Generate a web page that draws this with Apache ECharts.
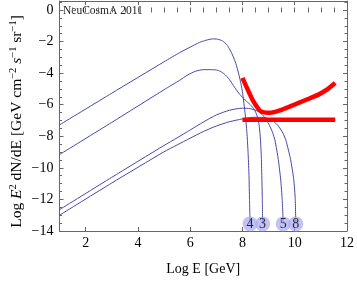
<!DOCTYPE html>
<html>
<head>
<meta charset="utf-8">
<script src="https://cdn.jsdelivr.net/npm/echarts@6/dist/echarts.min.js"></script>
<style>
html,body{margin:0;padding:0;background:#fff;}
#c{width:357px;height:281px;}
</style>
</head>
<body>
<div id="c"></div>
<script>
// ---- data ----
const xTicks = [2, 4, 6, 8, 10, 12];
const yTicks = [-14, -12, -10, -8, -6, -4, -2, 0];

const curve4 = [[1,-7.28],[3,-5.27],[5,-3.28],[5.6,-2.7],[6.0,-2.35],[6.35,-2.06],[6.6,-1.92],[6.85,-1.83],[7.05,-1.85],[7.24,-1.96],[7.4,-2.2],[7.5,-2.45],[7.62,-2.85],[7.75,-3.4],[7.85,-4.0],[7.94,-4.65],[8.01,-5.3],[8.07,-6.1],[8.13,-7.0],[8.18,-8.0],[8.22,-9.2],[8.25,-10.5],[8.27,-12],[8.29,-13.55]];
const curve3 = [[1,-9.16],[3,-7.12],[5,-5.05],[5.6,-4.45],[5.9,-4.12],[6.2,-3.88],[6.5,-3.78],[6.8,-3.78],[7.0,-3.8],[7.15,-3.88],[7.3,-4.05],[7.5,-4.4],[7.7,-4.9],[7.9,-5.35],[8.1,-5.7],[8.3,-6.0],[8.45,-6.3],[8.55,-6.65],[8.63,-7.2],[8.68,-8.0],[8.72,-9.2],[8.74,-10.5],[8.76,-12],[8.77,-13.55]];
const curve5 = [[1,-12.65],[3,-10.6],[5,-8.58],[5.5,-8.1],[6,-7.6],[6.5,-7.1],[7.0,-6.65],[7.5,-6.35],[8.0,-6.22],[8.3,-6.25],[8.6,-6.42],[8.8,-6.7],[9.0,-7.2],[9.15,-7.75],[9.25,-8.3],[9.37,-9.46],[9.46,-10.7],[9.52,-12],[9.56,-13.55]];
const curve8 = [[1,-13.0],[3,-10.96],[5,-8.98],[5.5,-8.55],[6,-8.12],[6.5,-7.7],[7.0,-7.35],[7.5,-7.08],[8.0,-6.9],[8.4,-6.8],[8.8,-6.8],[9.1,-6.95],[9.35,-7.3],[9.55,-7.8],[9.67,-8.3],[9.84,-9.46],[9.96,-10.7],[10.02,-12],[10.04,-13.55]];
const redCurve = [[8.0,-4.3],[8.38,-5.67],[8.63,-6.31],[8.75,-6.45],[9.01,-6.51],[9.25,-6.45],[9.52,-6.31],[9.8,-6.12],[10.15,-5.88],[10.5,-5.65],[10.91,-5.36],[11.2,-5.08],[11.55,-4.62]];
const redFlat = [[8.0,-6.95],[11.55,-6.95]];
const endNames = ['4', '3', '5', '8'];
const endX = [8.29, 8.77, 9.56, 10.04];
const endY = -13.55;

// ---- styles ----
const SERIF = '"Liberation Serif","DejaVu Serif",serif';
const FRAME = '#666';
const BLUE = '#4848a8';
const fmt = v => (v < 0 ? '\u2212' : '') + Math.abs(v);

const X0 = 1, X1 = 12, Y0 = -14, Y1 = 0.57;
function majorX(pos, labels, extra) {
  return Object.assign({
    type: 'value', gridIndex: 0, position: pos, min: X0, max: X1,
    axisLine: {show: true, onZero: false, lineStyle: {color: FRAME, width: 1}},
    axisTick: {show: true, inside: true, length: 4, customValues: xTicks, lineStyle: {color: FRAME}},
    axisLabel: {show: labels, customValues: xTicks, formatter: fmt, margin: 5, color: '#000', fontFamily: SERIF, fontSize: 14},
    splitLine: {show: false}
  }, extra || {});
}
function minorX(pos) {
  return {
    type: 'value', gridIndex: 0, position: pos, min: X0, max: X1, interval: 0.5,
    axisLine: {show: false}, axisLabel: {show: false}, splitLine: {show: false},
    axisTick: {show: true, inside: true, length: 2.5, lineStyle: {color: FRAME}}
  };
}
function majorY(pos, labels) {
  return {
    type: 'value', gridIndex: 0, position: pos, min: Y0, max: Y1,
    axisLine: {show: true, onZero: false, lineStyle: {color: FRAME, width: 1}},
    axisTick: {show: true, inside: true, length: 4, customValues: yTicks, lineStyle: {color: FRAME}},
    axisLabel: {show: labels, customValues: yTicks, formatter: fmt, margin: 6, color: '#000', fontFamily: SERIF, fontSize: 14},
    splitLine: {show: false}
  };
}
function minorY(pos) {
  return {
    type: 'value', gridIndex: 0, position: pos, min: Y0, max: Y1, interval: 0.5,
    axisLine: {show: false}, axisLabel: {show: false}, splitLine: {show: false},
    axisTick: {show: true, inside: true, length: 2.5, lineStyle: {color: FRAME}}
  };
}

function blueLine(data) {
  return {type: 'line', xAxisIndex: 0, yAxisIndex: 0, data: data, showSymbol: false, symbol: 'none',
    smooth: 0.2, lineStyle: {color: BLUE, width: 1}, z: 3};
}
function redLine(data) {
  return {type: 'line', xAxisIndex: 0, yAxisIndex: 0, data: data, showSymbol: false, symbol: 'none',
    smooth: 0.2, lineStyle: {color: '#ff0000', width: 4.5, cap: 'butt'}, z: 4};
}

const chart = echarts.init(document.getElementById('c'), null, {renderer: 'canvas'});
chart.setOption({
  animation: false,
  backgroundColor: '#fff',
  grid: [
    {left: 59.5, right: 8.5, top: 1, bottom: 49},
    {left: 59.5, right: 8.5, top: 10, bottom: 48}
  ],
  xAxis: [
    majorX('bottom', true, {name: 'Log E [GeV]', nameLocation: 'middle', nameGap: 31,
      nameTextStyle: {color: '#000', fontFamily: SERIF, fontSize: 14}}),
    minorX('bottom'),
    majorX('top', false),
    minorX('top'),
    {type: 'value', gridIndex: 1, show: false, min: 0, max: 1}
  ],
  yAxis: [
    majorY('left', true),
    minorY('left'),
    majorY('right', false),
    minorY('right'),
    {type: 'value', gridIndex: 1, min: 0, max: 1,
      axisLine: {show: false}, axisTick: {show: false}, axisLabel: {show: false}, splitLine: {show: false},
      name: '{n|Log }{i|E}{s|2}{n| dN/dE [GeV cm}{s|\u22122}{n| }{i|s}{s|\u22121}{n| sr}{s|\u22121}{n|]}',
      nameLocation: 'middle', nameGap: 39,
      nameTextStyle: {color: '#000', fontFamily: SERIF, fontSize: 15,
        rich: {
          n: {fontFamily: SERIF, fontSize: 15.5, color: '#000', lineHeight: 18},
          i: {fontFamily: SERIF, fontSize: 15.5, fontStyle: 'italic', color: '#000', lineHeight: 18},
          s: {fontFamily: SERIF, fontSize: 10.5, color: '#000', lineHeight: 11, verticalAlign: 'top'}
        }}}
  ],
  graphic: [
    {type: 'text', left: 63, top: 5, style: {text: 'NeuCosmA 2011', fill: '#222', font: '11.5px ' + SERIF}}
  ],
  series: [
    blueLine(curve4),
    blueLine(curve3),
    blueLine(curve5),
    blueLine(curve8),
    redLine(redCurve),
    redLine(redFlat),
    {type: 'scatter', xAxisIndex: 0, yAxisIndex: 0, symbol: 'circle', symbolSize: 15, z: 6,
      itemStyle: {color: 'rgba(165,165,245,0.85)'},
      data: endX.map((x, i) => ({value: [x, endY], name: endNames[i]})),
      label: {show: true, position: 'inside', formatter: p => p.name, color: '#000', fontFamily: SERIF, fontSize: 14}}
  ]
});
</script>
</body>
</html>
